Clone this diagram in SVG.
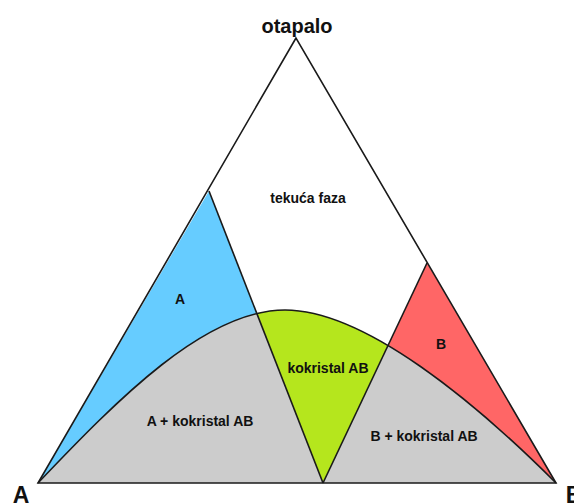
<svg xmlns="http://www.w3.org/2000/svg" width="574" height="504" viewBox="0 0 574 504">
<style>
text{font-family:"Liberation Sans",Arial,sans-serif;font-weight:bold;fill:#111;text-anchor:middle}
.lbl{font-size:14px}
.edge{fill:none;stroke:#1a1a1a;stroke-width:1.6;stroke-linejoin:miter}
</style>
<defs>
<clipPath id="under">
<path d="M38,483 C118,399 205,310 285,310 C365,310 476,403 556,483 Z"/>
</clipPath>
</defs>
<rect width="574" height="504" fill="#ffffff"/>
<g id="region-liquid">
<polygon points="296,38 38,483 556,483" fill="#ffffff"/>
<text x="308" y="203" class="lbl">tekuća faza</text>
</g>
<g id="region-A">
<polygon points="38,483 209,191 323,483" fill="#66ccff"/>
<text x="180" y="304" class="lbl">A</text>
</g>
<g id="region-B">
<polygon points="427,263 556,483 323,483" fill="#ff6666"/>
<text x="441" y="349" class="lbl">B</text>
</g>
<g id="region-mix">
<path d="M38,483 C118,399 205,310 285,310 C365,310 476,403 556,483 Z" fill="#cccccc"/>
<text x="200" y="426" class="lbl">A + kokristal AB</text>
<text x="424" y="441" class="lbl">B + kokristal AB</text>
</g>
<g id="region-cocrystal">
<polygon points="209,191 427,263 323,483" fill="#b5e61d" clip-path="url(#under)"/>
<text x="328" y="373" class="lbl">kokristal AB</text>
</g>
<g id="connectors">
<polygon class="edge" points="296,38 38,483 556,483"/>
<path class="edge" d="M38,483 C118,399 205,310 285,310 C365,310 476,403 556,483"/>
<line class="edge" x1="209" y1="191" x2="323" y2="483"/>
<line class="edge" x1="427" y1="263" x2="323" y2="483"/>
</g>
<g id="vertex-labels">
<text x="297" y="33" style="font-size:20px">otapalo</text>
<text x="21" y="503" style="font-size:23px">A</text>
<text x="574" y="503" style="font-size:23px">B</text>
</g>
</svg>
